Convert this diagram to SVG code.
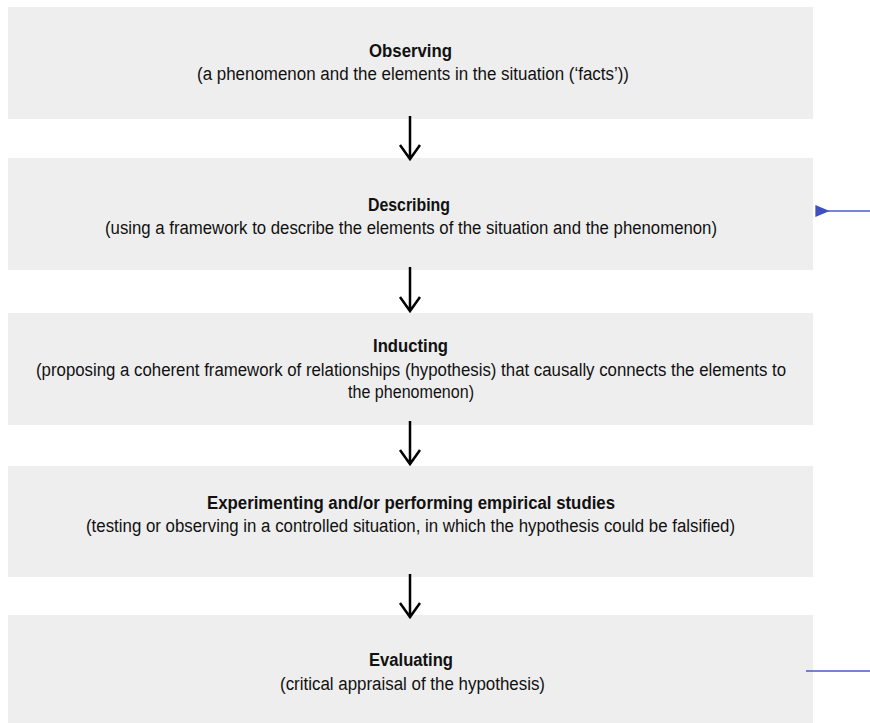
<svg xmlns="http://www.w3.org/2000/svg" width="870" height="723" viewBox="0 0 870 723">
  <defs>
    <style>
      .box { fill: #eeeeee; }
      .title { font-family: "Liberation Sans", Arial, sans-serif; font-size: 18px; font-weight: bold; fill: #111; text-anchor: middle; }
      .sub { font-family: "Liberation Sans", Arial, sans-serif; font-size: 18px; fill: #111; text-anchor: middle; }
      .flow { stroke: #000; stroke-width: 2.5; fill: none; }
      .feedback { stroke: #4a5bc4; stroke-width: 1.6; fill: none; }
    </style>
    <marker id="blueHead" viewBox="0 0 10 10" refX="1" refY="5" markerWidth="14" markerHeight="12" markerUnits="userSpaceOnUse" orient="auto" preserveAspectRatio="none">
      <path d="M10,0 L0,5 L10,10 Z" fill="#3f4fbf"/>
    </marker>
  </defs>

  <rect width="870" height="723" fill="#ffffff"/>

  <g id="observing">
    <rect class="box" x="8" y="7" width="805" height="112"/>
    <text class="title" x="410.5" y="57" textLength="83" lengthAdjust="spacingAndGlyphs">Observing</text>
    <text class="sub" x="413" y="80" textLength="432" lengthAdjust="spacingAndGlyphs">(a phenomenon and the elements in the situation (‘facts’))</text>
  </g>

  <g id="describing">
    <rect class="box" x="8" y="158" width="805" height="112"/>
    <text class="title" x="409" y="211" textLength="82" lengthAdjust="spacingAndGlyphs">Describing</text>
    <text class="sub" x="411" y="234" textLength="612" lengthAdjust="spacingAndGlyphs">(using a framework to describe the elements of the situation and the phenomenon)</text>
  </g>

  <g id="inducting">
    <rect class="box" x="8" y="313" width="805" height="112"/>
    <text class="title" x="410.5" y="352" textLength="75" lengthAdjust="spacingAndGlyphs">Inducting</text>
    <text class="sub" x="411" y="376" textLength="750" lengthAdjust="spacingAndGlyphs">(proposing a coherent framework of relationships (hypothesis) that causally connects the elements to</text>
    <text class="sub" x="411" y="398" textLength="126" lengthAdjust="spacingAndGlyphs">the phenomenon)</text>
  </g>

  <g id="experimenting">
    <rect class="box" x="8" y="466" width="805" height="111"/>
    <text class="title" x="411" y="509" textLength="408" lengthAdjust="spacingAndGlyphs">Experimenting and/or performing empirical studies</text>
    <text class="sub" x="410.5" y="532" textLength="649" lengthAdjust="spacingAndGlyphs">(testing or observing in a controlled situation, in which the hypothesis could be falsified)</text>
  </g>

  <g id="evaluating">
    <rect class="box" x="8" y="615" width="805" height="108"/>
    <text class="title" x="411" y="666" textLength="84" lengthAdjust="spacingAndGlyphs">Evaluating</text>
    <text class="sub" x="412.5" y="690" textLength="265" lengthAdjust="spacingAndGlyphs">(critical appraisal of the hypothesis)</text>
  </g>

  <g id="connectors">
    <!-- downward flow arrows between steps -->
    <path class="flow" d="M410,116 V159 M400,145 L410,159 L420,145"/>
    <path class="flow" d="M410,267 V311 M400,297 L410,311 L420,297"/>
    <path class="flow" d="M410,421 V464 M400,450 L410,464 L420,450"/>
    <path class="flow" d="M410,574 V617 M400,603 L410,617 L420,603"/>
    <!-- feedback loop from evaluation back to description -->
    <path class="feedback" d="M870,211 H828" marker-end="url(#blueHead)"/>
    <path class="feedback" d="M806,671 H870"/>
  </g>
</svg>
